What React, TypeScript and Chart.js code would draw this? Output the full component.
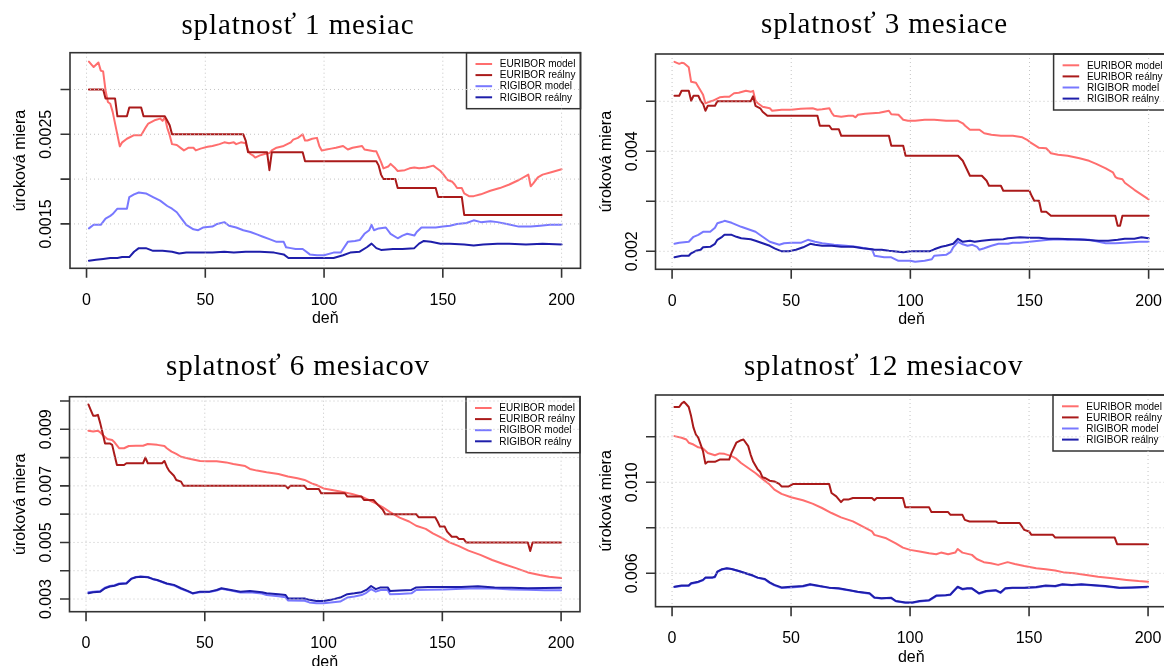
import React, { useEffect, useRef } from 'react';
import { Chart, registerables } from 'chart.js';
Chart.register(...registerables);

// ---------- data ----------
const seriesNames = ['EURIBOR model', 'EURIBOR reálny', 'RIGIBOR model', 'RIGIBOR reálny'];
const seriesColors = ['#FF6E6E', '#AA1A1A', '#7878FF', '#1E1EAA'];
const titles = ['splatnosť 1 mesiac', 'splatnosť 3 mesiace', 'splatnosť 6 mesiacov', 'splatnosť 12 mesiacov'];
const xTicks = [0, 50, 100, 150, 200];
const xTickLabels = ['0', '50', '100', '150', '200'];
const xAxisTitle = 'deň';
const yAxisTitle = 'úroková miera';

const yTicks1 = [0.0015, 0.002, 0.0025, 0.003];
const yLabels1 = ['0.0015', '', '0.0025', ''];
const yTicks2 = [0.002, 0.003, 0.004, 0.005];
const yLabels2 = ['0.002', '', '0.004', ''];
const yTicks3 = [0.003, 0.004, 0.005, 0.006, 0.007, 0.008, 0.009, 0.01];
const yLabels3 = ['0.003', '', '0.005', '', '0.007', '', '0.009', ''];
const yTicks4 = [0.006, 0.008, 0.01, 0.012];
const yLabels4 = ['0.006', '', '0.010', ''];

// panel 1 (1 mesiac)
const p1EurModel = [[1,0.00331],[3,0.00325],[5,0.0033],[6,0.00321],[7,0.0032],[8,0.00299],[9,0.00286],[10,0.00284],[11,0.00275],[14,0.002365],[15,0.00241],[17,0.00245],[20,0.00249],[23,0.00249],[25,0.00258],[26,0.00262],[29,0.00266],[31,0.002675],[32,0.00265],[33,0.00269],[34,0.00257],[35,0.00249],[36,0.00239],[38,0.00238],[40,0.00234],[41,0.00232],[43,0.00235],[45,0.00235],[46,0.00232],[48,0.00234],[51,0.00236],[53,0.00237],[56,0.00239],[58,0.00241],[60,0.0024],[62,0.00241],[63,0.00239],[65,0.00241],[67,0.0024],[68,0.00232],[69,0.00228],[70,0.002265],[71,0.00224],[73,0.002265],[75,0.00228],[77,0.00229],[78,0.00232],[80,0.00235],[83,0.00237],[86,0.00241],[87,0.00244],[89,0.00246],[91,0.0025],[92,0.00243],[93,0.00243],[95,0.00245],[97,0.00246],[98,0.00237],[99,0.00232],[101,0.00233],[103,0.00234],[105,0.00235],[108,0.00237],[110,0.00233],[112,0.00235],[116,0.00237],[117,0.00233],[121,0.00231],[122,0.00231],[123,0.00225],[124,0.00219],[125,0.00212],[127,0.00214],[128,0.00217],[130,0.00212],[131,0.00209],[134,0.0021],[136,0.00212],[138,0.00213],[140,0.00212],[143,0.00213],[146,0.00215],[147,0.00213],[149,0.00209],[150,0.00206],[152,0.00199],[154,0.00197],[155,0.00194],[156,0.0019],[158,0.0019],[159,0.00184],[161,0.00181],[163,0.00181],[166,0.00183],[170,0.00187],[174,0.0019],[178,0.00194],[182,0.00199],[186,0.00205],[187,0.00192],[188,0.00195],[190,0.00202],[192,0.00205],[196,0.00208],[200,0.00211]];
const p1EurReal = [[1,0.003],[7,0.003],[8,0.0029],[12,0.0029],[13,0.0027],[17,0.0027],[18,0.0028],[23,0.0028],[24,0.0027],[33,0.0027],[34,0.00265],[35,0.0026],[36,0.0025],[66,0.0025],[67,0.00243],[68,0.0023],[76,0.0023],[77,0.0021],[78,0.0023],[91,0.0023],[92,0.0022],[122,0.0022],[123,0.00215],[124,0.00205],[125,0.002],[130,0.002],[131,0.0019],[147,0.0019],[148,0.0018],[158,0.0018],[159,0.0016],[200,0.0016]];
const p1RigModel = [[1,0.00145],[3,0.00149],[6,0.00149],[8,0.00156],[10,0.00159],[11,0.00161],[13,0.00167],[17,0.00167],[18,0.0018],[20,0.00183],[22,0.00185],[25,0.00184],[28,0.0018],[31,0.00176],[34,0.0017],[36,0.00167],[38,0.00163],[40,0.00156],[42,0.00149],[45,0.00144],[47,0.00143],[49,0.00146],[53,0.00147],[55,0.0015],[58,0.00152],[60,0.00148],[63,0.00146],[66,0.00143],[69,0.00141],[72,0.00138],[74,0.00136],[77,0.00133],[80,0.0013],[83,0.0013],[84,0.00124],[86,0.00123],[88,0.00122],[91,0.00122],[92,0.0012],[94,0.00116],[97,0.00115],[100,0.00115],[104,0.00118],[107,0.00118],[108,0.00122],[110,0.0013],[113,0.00131],[115,0.00132],[117,0.00139],[119,0.00143],[120,0.00149],[121,0.00143],[123,0.00145],[126,0.00146],[128,0.00139],[131,0.00134],[133,0.00137],[135,0.00139],[138,0.00137],[139,0.00141],[141,0.00146],[145,0.00146],[147,0.00146],[150,0.00147],[153,0.00148],[156,0.0015],[160,0.00151],[163,0.00154],[166,0.00152],[170,0.00153],[173,0.00152],[177,0.0015],[182,0.00147],[187,0.00147],[191,0.00148],[195,0.00149],[200,0.00149]];
const p1RigReal = [[1,0.00109],[4,0.0011],[7,0.00111],[10,0.00112],[13,0.00112],[15,0.00113],[18,0.00113],[20,0.00119],[22,0.00123],[25,0.00123],[28,0.0012],[32,0.0012],[36,0.00119],[39,0.00117],[42,0.00118],[48,0.00118],[53,0.00118],[58,0.00119],[62,0.00118],[67,0.00119],[73,0.00119],[79,0.00118],[83,0.00116],[85,0.00112],[90,0.00112],[97,0.00112],[104,0.00112],[108,0.00115],[111,0.00118],[115,0.00119],[118,0.00124],[120,0.00128],[122,0.00123],[124,0.00121],[129,0.00122],[133,0.00122],[138,0.00123],[140,0.00128],[142,0.00131],[145,0.0013],[149,0.00128],[153,0.00128],[159,0.00127],[163,0.00126],[167,0.00127],[173,0.00128],[178,0.00128],[185,0.00127],[192,0.00128],[200,0.00127]];

// panel 2 (3 mesiace)
const p2EurModel = [[1,0.00579],[3,0.00575],[4,0.00577],[5,0.00576],[7,0.00568],[8,0.00539],[10,0.00537],[11,0.00529],[13,0.00513],[14,0.00496],[15,0.00498],[17,0.00501],[20,0.00508],[22,0.00509],[24,0.00509],[26,0.00516],[28,0.00517],[31,0.00521],[33,0.00519],[34,0.00521],[35,0.00501],[36,0.00496],[38,0.00489],[41,0.00486],[42,0.00481],[46,0.00483],[50,0.00483],[54,0.00485],[59,0.00486],[61,0.00483],[63,0.00484],[66,0.00486],[67,0.00477],[68,0.00471],[71,0.00469],[74,0.00471],[76,0.00471],[77,0.00468],[78,0.00473],[81,0.00475],[84,0.00476],[87,0.00477],[89,0.00479],[91,0.00481],[92,0.00474],[95,0.00473],[97,0.00463],[99,0.00461],[102,0.00461],[106,0.00463],[110,0.00463],[115,0.00461],[120,0.00461],[122,0.00456],[123,0.00451],[125,0.00443],[129,0.00443],[131,0.00436],[134,0.00433],[138,0.00431],[143,0.00431],[147,0.00428],[149,0.00423],[150,0.00419],[152,0.00413],[154,0.00407],[157,0.00406],[159,0.00396],[162,0.00393],[166,0.00391],[171,0.00386],[175,0.00381],[178,0.00375],[182,0.00366],[185,0.00358],[186,0.00349],[187,0.00346],[189,0.00344],[190,0.00337],[194,0.00323],[200,0.00304]];
const p2EurReal = [[1,0.00511],[3,0.00511],[4,0.00521],[7,0.00521],[8,0.00501],[9,0.00511],[11,0.00511],[12,0.00501],[13,0.00495],[14,0.00481],[15,0.00491],[18,0.00491],[19,0.005],[33,0.005],[34,0.0051],[35,0.00491],[37,0.00486],[38,0.00479],[40,0.00471],[61,0.00471],[62,0.00451],[66,0.00451],[67,0.00444],[70,0.00444],[71,0.00431],[91,0.00431],[92,0.00411],[97,0.00411],[98,0.00391],[120,0.00391],[122,0.00381],[123,0.00371],[124,0.00361],[125,0.00351],[130,0.00351],[132,0.00341],[133,0.00331],[138,0.00331],[139,0.00321],[150,0.00321],[151,0.0031],[152,0.00301],[154,0.00301],[155,0.00279],[157,0.00279],[159,0.00271],[186,0.00271],[187,0.00251],[188,0.00251],[189,0.00271],[200,0.00271]];
const p2RigModel = [[1,0.00215],[3,0.00217],[7,0.00219],[9,0.00229],[11,0.00233],[13,0.00239],[16,0.00239],[18,0.00247],[19,0.00256],[21,0.00259],[22,0.00261],[25,0.00257],[27,0.00253],[29,0.00249],[32,0.00244],[35,0.00239],[38,0.00229],[41,0.00219],[45,0.00213],[47,0.00216],[50,0.00217],[54,0.00217],[57,0.00223],[60,0.00219],[63,0.00216],[68,0.00213],[73,0.00211],[77,0.00209],[81,0.00206],[84,0.00203],[85,0.00191],[89,0.00188],[92,0.00188],[95,0.00181],[100,0.00181],[102,0.00179],[106,0.00181],[109,0.00184],[110,0.00191],[115,0.00193],[117,0.00199],[118,0.00208],[120,0.00219],[122,0.00214],[124,0.00211],[126,0.00213],[128,0.00209],[129,0.00203],[131,0.00206],[134,0.00211],[137,0.00215],[141,0.00215],[143,0.00217],[146,0.00217],[150,0.00219],[154,0.00221],[158,0.00223],[162,0.00224],[166,0.00223],[171,0.00224],[175,0.00223],[179,0.00219],[182,0.00216],[186,0.00216],[190,0.00217],[196,0.00219],[200,0.00219]];
const p2RigReal = [[1,0.00188],[4,0.00191],[7,0.00191],[8,0.00196],[10,0.00201],[12,0.00203],[13,0.00208],[16,0.00209],[18,0.00215],[19,0.00223],[21,0.00229],[22,0.00233],[25,0.00233],[27,0.00229],[29,0.00226],[33,0.00224],[35,0.00221],[38,0.00216],[41,0.00211],[43,0.00206],[46,0.002],[49,0.002],[52,0.00203],[55,0.00208],[58,0.00215],[60,0.00213],[63,0.00211],[67,0.00211],[71,0.00209],[76,0.00209],[80,0.00206],[84,0.00204],[85,0.00203],[88,0.00203],[91,0.00201],[95,0.00199],[97,0.00198],[100,0.002],[108,0.002],[110,0.00204],[113,0.00209],[115,0.00211],[118,0.00215],[120,0.00225],[122,0.00219],[125,0.00221],[127,0.00219],[130,0.00221],[134,0.00223],[139,0.00224],[141,0.00226],[146,0.00228],[150,0.00227],[154,0.00227],[158,0.00225],[162,0.00225],[168,0.00224],[173,0.00223],[179,0.00221],[183,0.00221],[187,0.00223],[190,0.00225],[194,0.00225],[197,0.00228],[200,0.00226]];

// panel 3 (6 mesiacov)
const p3EurModel = [[1,0.00895],[3,0.00892],[5,0.00895],[6,0.00889],[7,0.0088],[9,0.00866],[11,0.00862],[12,0.00854],[14,0.00833],[16,0.00833],[18,0.00841],[21,0.00842],[24,0.00842],[26,0.00848],[30,0.00845],[33,0.00841],[34,0.00833],[36,0.00821],[38,0.00813],[40,0.00803],[44,0.00795],[48,0.00788],[51,0.00787],[55,0.00787],[59,0.00783],[62,0.00777],[67,0.0077],[69,0.0076],[72,0.00754],[76,0.00748],[81,0.00742],[85,0.00733],[89,0.00727],[92,0.00721],[95,0.00709],[97,0.00703],[100,0.00691],[103,0.00686],[107,0.0068],[112,0.00671],[116,0.00662],[119,0.0065],[122,0.00638],[125,0.00624],[128,0.00607],[132,0.00588],[136,0.00574],[139,0.00559],[143,0.00548],[146,0.00532],[150,0.00515],[153,0.005],[157,0.00487],[161,0.00471],[166,0.00456],[171,0.00438],[176,0.00423],[181,0.00409],[186,0.00394],[191,0.00385],[195,0.00379],[200,0.00374]];
const p3EurReal = [[1,0.00988],[2,0.00968],[3,0.00948],[4,0.00948],[5,0.00951],[6,0.00921],[7,0.00886],[8,0.0085],[10,0.0085],[11,0.00845],[12,0.00809],[13,0.00774],[16,0.00774],[17,0.0078],[24,0.0078],[25,0.008],[26,0.0078],[32,0.0078],[33,0.00788],[34,0.00768],[35,0.00753],[37,0.00736],[38,0.00721],[40,0.00715],[41,0.007],[84,0.007],[85,0.00691],[86,0.007],[92,0.007],[93,0.00689],[98,0.00689],[99,0.00674],[109,0.00674],[110,0.00662],[116,0.00662],[117,0.0065],[121,0.0065],[123,0.00632],[125,0.00615],[126,0.006],[139,0.006],[140,0.00589],[147,0.00589],[148,0.00574],[149,0.00556],[151,0.00556],[152,0.00538],[154,0.0052],[156,0.0052],[157,0.00512],[159,0.00512],[160,0.005],[186,0.005],[187,0.0047],[188,0.005],[200,0.005]];
const p3RigModel = [[1,0.00324],[3,0.00326],[6,0.00328],[8,0.0034],[10,0.00346],[12,0.00349],[14,0.00355],[17,0.00357],[19,0.00372],[21,0.00378],[23,0.0038],[26,0.00378],[28,0.00371],[30,0.00366],[32,0.0036],[34,0.00354],[37,0.00348],[40,0.00336],[43,0.00326],[45,0.00319],[48,0.00324],[52,0.00325],[55,0.0033],[57,0.00336],[61,0.0033],[65,0.00323],[69,0.00324],[74,0.00319],[76,0.00314],[81,0.0031],[84,0.00306],[85,0.00295],[92,0.00294],[94,0.00288],[97,0.00285],[100,0.00285],[103,0.00288],[107,0.00291],[110,0.00305],[113,0.00309],[116,0.00314],[118,0.00322],[120,0.00335],[122,0.00326],[124,0.00332],[127,0.00332],[128,0.00317],[132,0.00318],[137,0.0032],[139,0.00332],[144,0.00333],[151,0.00334],[158,0.00336],[165,0.00338],[172,0.00337],[179,0.00334],[186,0.00333],[193,0.00331],[200,0.00331]];
const p3RigReal = [[1,0.0032],[3,0.00324],[6,0.00326],[8,0.00338],[10,0.00344],[12,0.00347],[14,0.00353],[17,0.00355],[19,0.00371],[21,0.00377],[23,0.00379],[26,0.00377],[28,0.00371],[30,0.00367],[32,0.00361],[34,0.00355],[37,0.0035],[40,0.00338],[43,0.00328],[45,0.0032],[48,0.00326],[52,0.00326],[55,0.00332],[57,0.00338],[61,0.00332],[65,0.00326],[69,0.00328],[74,0.00324],[76,0.0032],[81,0.00317],[84,0.00314],[85,0.00302],[92,0.00302],[94,0.00297],[97,0.00293],[100,0.00293],[103,0.00297],[107,0.00305],[110,0.00317],[113,0.0032],[116,0.00324],[118,0.00332],[120,0.00346],[122,0.00335],[124,0.00341],[127,0.00341],[128,0.00328],[132,0.0033],[137,0.00332],[139,0.00341],[144,0.00342],[151,0.00342],[158,0.00342],[165,0.00345],[172,0.00341],[179,0.0034],[186,0.00338],[193,0.00339],[200,0.0034]];

// panel 4 (12 mesiacov)
const p4EurModel = [[1,0.01203],[4,0.01196],[6,0.01188],[7,0.01174],[9,0.01166],[11,0.01154],[13,0.01149],[15,0.01129],[18,0.01119],[20,0.01127],[22,0.01125],[25,0.01115],[27,0.01104],[29,0.01085],[32,0.01063],[35,0.01041],[38,0.01015],[41,0.0099],[43,0.00968],[46,0.00949],[50,0.00934],[55,0.00921],[59,0.00906],[63,0.00887],[67,0.00865],[71,0.00846],[76,0.00828],[80,0.00806],[84,0.00784],[85,0.00769],[90,0.00754],[94,0.00732],[97,0.00713],[100,0.00703],[104,0.00696],[108,0.00688],[111,0.00684],[113,0.00691],[116,0.00684],[119,0.00691],[120,0.00707],[122,0.00691],[126,0.00681],[128,0.00663],[131,0.00649],[134,0.00644],[137,0.00637],[141,0.00649],[144,0.00641],[148,0.00632],[153,0.00622],[157,0.00618],[161,0.00612],[165,0.00603],[169,0.006],[174,0.00593],[179,0.00585],[185,0.00578],[191,0.00571],[196,0.00566],[200,0.00563]];
const p4EurReal = [[1,0.01331],[3,0.01331],[4,0.01346],[5,0.01354],[6,0.01343],[7,0.01331],[8,0.01291],[9,0.0124],[10,0.0121],[11,0.01196],[13,0.01137],[14,0.01082],[15,0.0109],[18,0.0109],[20,0.011],[24,0.011],[25,0.01129],[27,0.01174],[29,0.01185],[30,0.01188],[32,0.01159],[33,0.01122],[34,0.01093],[36,0.01056],[37,0.01046],[38,0.01022],[39,0.01019],[41,0.01007],[43,0.01004],[45,0.00993],[46,0.00982],[49,0.00982],[51,0.00993],[66,0.00993],[67,0.00953],[69,0.00938],[71,0.00913],[72,0.00924],[74,0.00924],[76,0.00931],[84,0.00931],[85,0.00921],[86,0.00931],[97,0.00931],[98,0.0089],[108,0.0089],[109,0.00869],[116,0.00869],[117,0.00857],[122,0.00857],[123,0.00835],[125,0.00828],[136,0.00828],[137,0.00821],[146,0.00821],[148,0.00791],[150,0.00784],[151,0.00769],[160,0.00769],[161,0.00757],[186,0.00757],[187,0.00728],[200,0.00728]];
const p4RigModel = [[1,0.0054],[4,0.00544],[7,0.00545],[8,0.00554],[11,0.00561],[13,0.00569],[14,0.00579],[17,0.0058],[18,0.00583],[19,0.00605],[21,0.00617],[23,0.00621],[25,0.00619],[28,0.0061],[31,0.00599],[34,0.00589],[36,0.0058],[39,0.00573],[41,0.00558],[43,0.00547],[46,0.00535],[50,0.00538],[55,0.00542],[58,0.0055],[62,0.00543],[66,0.00536],[70,0.00532],[74,0.00526],[78,0.00518],[83,0.0051],[85,0.00493],[88,0.00489],[92,0.00491],[94,0.00477],[98,0.00471],[101,0.00471],[104,0.00476],[108,0.0048],[111,0.005],[115,0.00503],[117,0.00505],[118,0.00517],[120,0.00539],[122,0.00529],[124,0.00532],[126,0.00532],[129,0.0051],[132,0.0052],[136,0.00524],[138,0.00514],[140,0.00532],[143,0.00535],[148,0.00535],[153,0.00538],[157,0.00544],[161,0.00542],[164,0.0055],[168,0.00547],[172,0.0055],[176,0.00547],[182,0.00542],[188,0.00535],[193,0.00536],[200,0.00539]];
const p4RigReal = [[1,0.00541],[4,0.00546],[7,0.00546],[8,0.00556],[11,0.00563],[13,0.00571],[14,0.00581],[17,0.00582],[18,0.00585],[19,0.00607],[21,0.00618],[23,0.00622],[25,0.00619],[28,0.0061],[31,0.006],[34,0.0059],[36,0.00581],[39,0.00575],[41,0.0056],[43,0.00549],[46,0.00538],[50,0.00541],[55,0.00544],[58,0.00552],[62,0.00544],[66,0.00537],[70,0.00534],[74,0.00527],[78,0.00519],[83,0.00512],[85,0.00494],[88,0.0049],[92,0.00493],[94,0.00478],[98,0.00472],[101,0.00472],[104,0.00478],[108,0.00482],[111,0.00502],[115,0.00504],[117,0.00507],[118,0.00519],[120,0.00541],[122,0.00531],[124,0.00534],[126,0.00534],[129,0.00512],[132,0.00522],[136,0.00526],[138,0.00516],[140,0.00534],[143,0.00537],[148,0.00537],[153,0.0054],[157,0.00546],[161,0.00544],[164,0.00552],[168,0.00549],[172,0.00552],[176,0.00549],[182,0.00544],[188,0.00537],[193,0.00538],[200,0.00541]];

// ---------- layout (styles) ----------
type Panel = {
  cl: number; ct: number; cw: number; ch: number;
  box: { l: number; r: number; t: number; b: number };
  yMin: number; yMax: number;
  yTicks: number[]; yLabels: string[];
  title: string; titleX: number; titleY: number;
  series: number[][][];
};

const X_MIN = -6.96;
const X_MAX = 207.96;

const panels: Panel[] = [
  { cl: 0, ct: 0, cw: 582, ch: 333, box: { l: 70, r: 580.5, t: 52.7, b: 268.3 }, yMin: 0.001005, yMax: 0.00341,
    yTicks: yTicks1, yLabels: yLabels1, title: titles[0], titleX: 298, titleY: 33.5,
    series: [p1EurModel, p1EurReal, p1RigModel, p1RigReal] },
  { cl: 582, ct: 0, cw: 590, ch: 333, box: { l: 655.5, r: 1167.6, t: 54, b: 269.3 }, yMin: 0.00164, yMax: 0.005946,
    yTicks: yTicks2, yLabels: yLabels2, title: titles[1], titleX: 884.5, titleY: 32.5,
    series: [p2EurModel, p2EurReal, p2RigModel, p2RigReal] },
  { cl: 0, ct: 333, cw: 582, ch: 333, box: { l: 69.5, r: 580, t: 396.7, b: 611.7 }, yMin: 0.002551, yMax: 0.010153,
    yTicks: yTicks3, yLabels: yLabels3, title: titles[2], titleX: 298, titleY: 375,
    series: [p3EurModel, p3EurReal, p3RigModel, p3RigReal] },
  { cl: 582, ct: 333, cw: 590, ch: 333, box: { l: 655.5, r: 1167, t: 395, b: 606.7 }, yMin: 0.004532, yMax: 0.013837,
    yTicks: yTicks4, yLabels: yLabels4, title: titles[3], titleX: 883.6, titleY: 375,
    series: [p4EurModel, p4EurReal, p4RigModel, p4RigReal] },
];

const SANS = '"Liberation Sans", Arial, sans-serif';
const SERIF = '"Liberation Serif", "Times New Roman", serif';

function makePlugin(p: Panel) {
  return {
    id: 'rstyle',
    afterDraw(chart: any) {
      const ctx: CanvasRenderingContext2D = chart.ctx;
      const xs = chart.scales.x;
      const ys = chart.scales.y;
      const L = p.box.l - p.cl, R = p.box.r - p.cl, T = p.box.t - p.ct, B = p.box.b - p.ct;
      ctx.save();

      // legend
      const lw = 114, lh = 56;
      const lx = R - lw, ly = T;
      ctx.fillStyle = '#ffffff';
      ctx.fillRect(lx, ly, lw, lh);
      ctx.strokeStyle = '#333333';
      ctx.lineWidth = 1.5;
      ctx.strokeRect(lx, ly, lw, lh);
      ctx.font = '10px ' + SANS;
      ctx.textBaseline = 'middle';
      ctx.textAlign = 'left';
      chart.data.datasets.forEach((ds: any, i: number) => {
        const ry = ly + 11.3 + i * 11.1;
        ctx.strokeStyle = ds.borderColor;
        ctx.lineWidth = 2;
        ctx.beginPath();
        ctx.moveTo(lx + 9, ry);
        ctx.lineTo(lx + 25.6, ry);
        ctx.stroke();
        ctx.fillStyle = '#000000';
        ctx.fillText(ds.label, lx + 33.3, ry + 0.5);
      });

      // grid (drawn on top, like R's grid())
      ctx.strokeStyle = '#c4c4c4';
      ctx.lineWidth = 1;
      ctx.setLineDash([1, 3]);
      xTicks.forEach((v) => {
        const x = xs.getPixelForValue(v);
        ctx.beginPath();
        ctx.moveTo(x, T);
        ctx.lineTo(x, B);
        ctx.stroke();
      });
      p.yTicks.forEach((v) => {
        const y = ys.getPixelForValue(v);
        ctx.beginPath();
        ctx.moveTo(L, y);
        ctx.lineTo(R, y);
        ctx.stroke();
      });
      ctx.setLineDash([]);

      // box
      ctx.strokeStyle = '#333333';
      ctx.lineWidth = 1.6;
      ctx.strokeRect(L, T, R - L, B - T);

      // ticks
      ctx.beginPath();
      xTicks.forEach((v) => {
        const x = xs.getPixelForValue(v);
        ctx.moveTo(x, B);
        ctx.lineTo(x, B + 9.5);
      });
      p.yTicks.forEach((v) => {
        const y = ys.getPixelForValue(v);
        ctx.moveTo(L, y);
        ctx.lineTo(L - 9.5, y);
      });
      ctx.stroke();

      // tick labels
      ctx.fillStyle = '#000000';
      ctx.font = '16px ' + SANS;
      ctx.textAlign = 'center';
      ctx.textBaseline = 'alphabetic';
      xTicks.forEach((v, i) => {
        ctx.fillText(xTickLabels[i], xs.getPixelForValue(v), B + 36.7);
      });
      p.yTicks.forEach((v, i) => {
        const lab = p.yLabels[i];
        if (!lab) return;
        ctx.save();
        ctx.translate(L - 19, ys.getPixelForValue(v));
        ctx.rotate(-Math.PI / 2);
        ctx.fillText(lab, 0, 0);
        ctx.restore();
      });

      // axis titles
      ctx.fillText(xAxisTitle, (L + R) / 2, B + 55);
      ctx.save();
      ctx.translate(L - 45, (T + B) / 2);
      ctx.rotate(-Math.PI / 2);
      ctx.fillText(yAxisTitle, 0, 0);
      ctx.restore();

      // main title
      ctx.font = '29px ' + SERIF;
      try { (ctx as any).letterSpacing = '0.9px'; } catch (e) { /* ignore */ }
      ctx.fillText(p.title, p.titleX - p.cl, p.titleY - p.ct);
      try { (ctx as any).letterSpacing = '0px'; } catch (e) { /* ignore */ }

      ctx.restore();
    },
  };
}

function PanelChart({ p }: { p: Panel }) {
  const ref = useRef<HTMLCanvasElement | null>(null);
  useEffect(() => {
    if (!ref.current) return;
    const orders = [4, 3, 2, 1];
    const datasets = p.series.map((s, i) => ({
      label: seriesNames[i],
      data: s.map(([x, y]) => ({ x, y })),
      borderColor: seriesColors[i],
      backgroundColor: seriesColors[i],
      borderWidth: 2,
      pointRadius: 0,
      tension: 0,
      fill: false,
      order: orders[i],
      borderJoinStyle: 'round' as const,
      borderCapStyle: 'round' as const,
    }));
    const chart = new Chart(ref.current, {
      type: 'line',
      data: { datasets },
      options: {
        responsive: false,
        maintainAspectRatio: false,
        animation: false,
        events: [],
        layout: {
          padding: {
            left: p.box.l - p.cl,
            top: p.box.t - p.ct,
            right: p.cw - (p.box.r - p.cl),
            bottom: p.ch - (p.box.b - p.ct),
          },
        },
        scales: {
          x: { type: 'linear', min: X_MIN, max: X_MAX, display: false },
          y: { type: 'linear', min: p.yMin, max: p.yMax, display: false },
        },
        plugins: { legend: { display: false }, tooltip: { enabled: false }, title: { display: false } },
      },
      plugins: [makePlugin(p)],
    } as any);
    return () => chart.destroy();
  }, [p]);
  return (
    <canvas
      ref={ref}
      width={p.cw}
      height={p.ch}
      style={{ position: 'absolute', left: p.cl, top: p.ct, width: p.cw, height: p.ch }}
    />
  );
}

export default function App() {
  useEffect(() => {
    document.body.style.margin = '0';
    document.body.style.background = '#ffffff';
  }, []);
  return (
    <div style={{ position: 'relative', width: 1164, height: 666, overflow: 'hidden', background: '#ffffff' }}>
      {panels.map((p, i) => (
        <PanelChart key={i} p={p} />
      ))}
    </div>
  );
}
